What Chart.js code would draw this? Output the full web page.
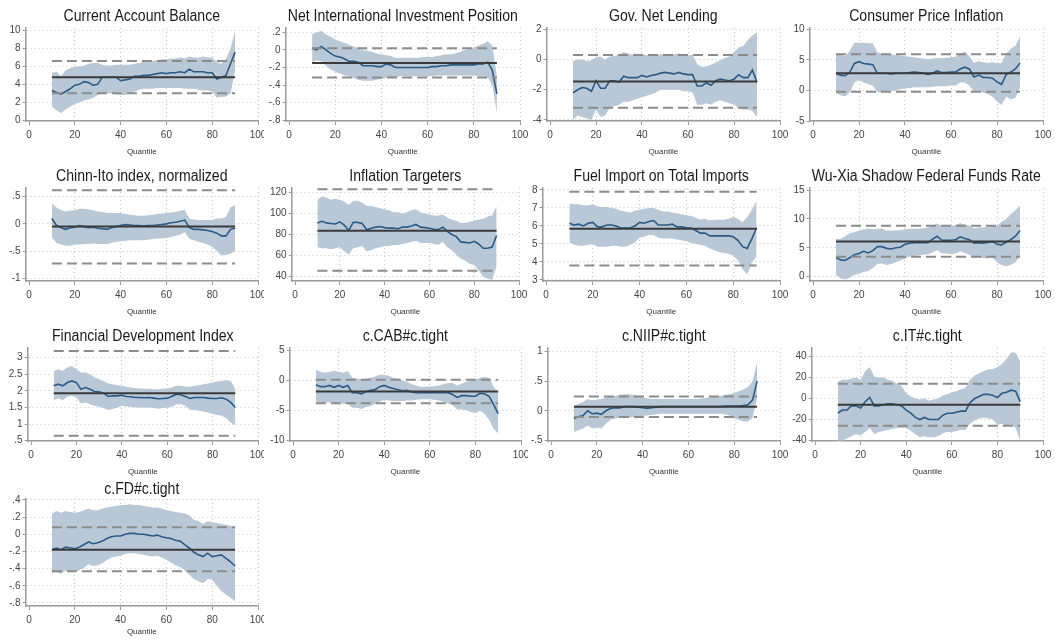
<!DOCTYPE html>
<html><head><meta charset="utf-8">
<script src="https://cdn.jsdelivr.net/npm/chart.js@4.4.0/dist/chart.umd.min.js"></script>
<style>
html,body{margin:0;padding:0;background:#fff;}
#wrap{position:relative;width:1055px;height:640px;overflow:hidden;background:#fff;}
.panel{position:absolute;}
.panel canvas{display:block;}
</style></head><body><div id="wrap"></div>
<script>
// ---------- data ----------
const QUANTILES = [10,12,14,16,18,20,22,24,26,28,30,32,34,36,38,40,42,44,46,48,50,52,54,56,58,60,62,64,66,68,70,72,74,76,78,80,82,84,86,88,90];
const X_TICKS = [0,20,40,60,80,100];
const X_TITLE = 'Quantile';

const cabTitle = 'Current Account Balance';
const cabLine  = [3.3,3.1,2.9,3.2,3.5,3.9,4.0,4.3,4.2,3.9,4.0,4.8,4.8,4.8,4.8,4.4,4.5,4.6,4.9,4.9,5.0,5.0,5.1,5.2,5.3,5.2,5.3,5.3,5.4,5.3,5.7,5.4,5.4,5.4,5.3,5.3,4.6,4.8,5.0,6.3,7.6];
const cabUpper = [5.3,5.4,4.9,5.6,5.8,6.0,6.0,6.1,6.3,6.4,6.4,6.2,6.1,6.1,6.2,6.2,6.2,6.2,6.3,6.4,6.5,6.5,6.6,6.7,6.8,6.8,6.9,6.9,7.0,6.9,7.1,7.0,7.0,7.1,7.0,7.0,6.5,6.3,6.8,8.0,10.0];
const cabLower = [1.5,1.1,0.8,1.2,1.5,1.8,2.0,2.2,2.3,2.5,2.8,3.0,3.0,3.0,2.9,2.8,2.8,3.0,3.2,3.4,3.5,3.5,3.5,3.6,3.6,3.6,3.6,3.6,3.6,3.5,3.5,3.5,3.4,3.3,3.3,3.2,2.5,2.6,2.6,3.0,5.5];
const cabOls   = [4.8, 6.6, 3.0];
const cabTicks = [0,2,4,6,8,10];

const niipTitle = 'Net International Investment Position';
const niipLine  = [0.02,0.0,0.04,0.0,-0.04,-0.07,-0.08,-0.10,-0.13,-0.13,-0.14,-0.18,-0.18,-0.18,-0.19,-0.19,-0.16,-0.17,-0.20,-0.20,-0.20,-0.20,-0.20,-0.20,-0.20,-0.20,-0.19,-0.19,-0.18,-0.18,-0.17,-0.17,-0.17,-0.17,-0.17,-0.17,-0.16,-0.16,-0.14,-0.23,-0.50];
const niipUpper = [0.18,0.20,0.22,0.18,0.15,0.12,0.10,0.08,0.06,0.04,0.02,0.0,-0.01,-0.02,-0.04,-0.05,-0.06,-0.07,-0.09,-0.09,-0.09,-0.09,-0.09,-0.09,-0.08,-0.08,-0.08,-0.07,-0.06,-0.05,-0.05,-0.04,-0.02,0.0,0.01,0.03,0.05,0.07,0.10,0.05,-0.30];
const niipLower = [-0.14,-0.12,-0.13,-0.18,-0.22,-0.25,-0.27,-0.29,-0.30,-0.32,-0.34,-0.35,-0.35,-0.35,-0.34,-0.33,-0.32,-0.31,-0.31,-0.30,-0.30,-0.30,-0.30,-0.30,-0.30,-0.30,-0.30,-0.29,-0.29,-0.29,-0.29,-0.29,-0.29,-0.29,-0.29,-0.29,-0.30,-0.30,-0.31,-0.40,-0.72];
const niipOls   = [-0.15, 0.02, -0.315];
const niipTicks = [-0.8,-0.6,-0.4,-0.2,0,0.2];

const govTitle = 'Gov. Net Lending';
const govLine  = [-2.2,-2.0,-1.85,-1.9,-2.1,-1.4,-1.9,-1.9,-1.4,-1.4,-1.5,-1.1,-1.2,-1.2,-1.2,-1.05,-1.15,-1.05,-1.0,-0.9,-0.85,-0.9,-0.95,-0.85,-0.95,-1.0,-1.0,-1.75,-1.75,-1.55,-1.7,-1.4,-1.3,-1.35,-1.4,-1.3,-1.0,-1.2,-1.2,-0.7,-1.5];
const govUpper = [-0.1,0.0,0.0,-0.1,-0.05,0.15,0.2,0.0,0.2,0.25,0.3,0.5,0.4,0.3,0.3,0.35,0.3,0.3,0.3,0.35,0.35,0.35,0.35,0.4,0.35,0.3,0.3,-0.3,-0.5,-0.45,-0.35,-0.2,-0.05,0.1,0.2,0.5,0.8,0.9,1.3,1.6,1.8];
const govLower = [-4.0,-3.7,-3.8,-3.9,-4.0,-3.3,-3.8,-3.7,-3.2,-3.1,-3.0,-2.8,-2.8,-2.7,-2.6,-2.5,-2.4,-2.3,-2.2,-2.0,-2.0,-2.0,-2.0,-2.0,-2.1,-2.1,-2.2,-3.0,-3.0,-2.9,-3.0,-2.8,-2.7,-2.8,-2.9,-3.0,-3.2,-3.3,-3.3,-3.4,-3.8];
const govOls   = [-1.45, 0.3, -3.2];
const govTicks = [-4,-2,0,2];

const cpiTitle = 'Consumer Price Inflation';
const cpiLine  = [2.8,2.5,2.4,3.0,4.4,4.7,4.4,4.3,4.2,2.8,2.8,2.8,2.7,2.8,2.8,2.8,2.9,3.0,2.9,2.8,2.6,2.8,3.2,2.9,2.9,3.0,3.0,3.5,3.8,3.5,2.2,2.5,2.1,2.1,2.0,1.4,1.0,2.6,3.0,3.5,4.5];
const cpiUpper = [6.0,6.0,5.6,6.5,7.8,7.8,7.8,7.7,7.7,6.2,6.0,6.0,5.9,5.8,5.7,5.6,5.5,5.4,5.3,5.2,5.1,5.2,5.3,5.3,5.3,5.4,5.5,6.0,6.3,5.6,4.5,4.8,4.6,4.5,4.6,4.5,4.5,6.0,6.8,7.3,8.8];
const cpiLower = [-0.5,-0.8,-1.0,-0.3,1.3,1.7,1.3,1.0,0.8,-0.3,-0.3,-0.2,-0.1,0.0,0.2,0.3,0.4,0.5,0.5,0.5,0.5,0.6,0.7,0.7,0.7,0.8,0.8,1.3,1.3,0.8,-0.2,-0.1,-0.4,-0.6,-1.0,-1.8,-2.4,-1.0,-1.5,-1.2,0.5];
const cpiOls   = [2.8, 5.9, -0.2];
const cpiTicks = [-5,0,5,10];

const chinnTitle = 'Chinn-Ito index, normalized';
const chinnLine  = [0.1,-0.03,-0.07,-0.1,-0.07,-0.06,-0.03,-0.05,-0.07,-0.06,-0.08,-0.09,-0.1,-0.07,-0.05,-0.03,-0.01,-0.02,-0.03,-0.03,-0.04,-0.03,-0.03,-0.02,-0.01,0.0,0.02,0.03,0.05,0.07,-0.07,-0.1,-0.1,-0.11,-0.12,-0.14,-0.17,-0.22,-0.22,-0.1,-0.08];
const chinnUpper = [0.38,0.3,0.25,0.23,0.24,0.25,0.28,0.28,0.27,0.25,0.23,0.22,0.2,0.2,0.2,0.2,0.18,0.17,0.16,0.15,0.15,0.16,0.17,0.18,0.19,0.2,0.21,0.22,0.24,0.26,0.1,0.08,0.07,0.07,0.07,0.07,0.1,0.1,0.12,0.3,0.35];
const chinnLower = [-0.25,-0.35,-0.38,-0.4,-0.4,-0.38,-0.38,-0.37,-0.37,-0.36,-0.37,-0.37,-0.37,-0.35,-0.33,-0.32,-0.31,-0.3,-0.3,-0.3,-0.3,-0.29,-0.28,-0.27,-0.27,-0.26,-0.24,-0.22,-0.2,-0.15,-0.28,-0.3,-0.33,-0.35,-0.38,-0.42,-0.5,-0.58,-0.57,-0.55,-0.5];
const chinnOls   = [-0.05, 0.62, -0.73];
const chinnTicks = [-1,-0.5,0,0.5];

const itTitle = 'Inflation Targeters';
const itLine  = [91,92.5,91,90.5,90,92,89,84,91.5,91.5,90.5,84.5,86,87,87.5,86.5,86,86,85.5,87,87,88,89.5,87,86.5,86,85,84.5,87,83,80,78,73,72.5,72,73.5,71,67,67,68,79];
const itUpper = [113,116,115,113,114,113,111,108,112,112,110,107,107,106,105,104,103,101,101,100,101,103,104,101,100,99,98,98,99,96,94,93,91,91,92,93,94,95,97,98,107];
const itLower = [68,67,67,66,67,68,64,61,67,68,69,64,65,67,68,69,69,70,70,71,72,73,74,72,72,72,71,70,73,68,65,61,57,55,52,51,46,40,38,37,50];
const itOls   = [83.6, 122.8, 45.7];
const itTicks = [40,60,80,100,120];

const fuelTitle = 'Fuel Import on Total Imports';
const fuelLine  = [6.15,6.05,6.1,6.0,6.15,6.2,5.95,5.95,6.05,6.05,6.0,5.88,5.88,5.9,6.0,6.2,6.15,6.25,6.3,6.05,6.05,6.05,6.1,5.95,5.95,5.9,5.88,5.75,5.6,5.6,5.45,5.45,5.45,5.45,5.45,5.4,5.2,4.85,4.75,5.3,5.9];
const fuelUpper = [7.25,7.2,7.2,7.15,7.15,7.2,7.1,7.05,7.05,7.0,6.95,6.85,6.8,6.75,6.85,6.9,6.95,7.0,7.0,6.9,6.8,6.8,6.75,6.7,6.65,6.6,6.55,6.45,6.35,6.4,6.3,6.35,6.35,6.35,6.4,6.5,6.4,6.2,6.5,6.9,7.4];
const fuelLower = [5.1,4.95,4.9,4.9,4.95,5.0,4.85,4.85,4.85,4.9,4.9,4.85,4.85,4.95,5.1,5.35,5.4,5.5,5.5,5.35,5.3,5.3,5.3,5.25,5.2,5.15,5.05,5.0,4.95,4.9,4.75,4.65,4.55,4.5,4.45,4.35,4.1,3.6,3.3,4.0,4.3];
const fuelOls   = [5.85, 7.9, 3.8];
const fuelTicks = [3,4,5,6,7,8];

const wuTitle = 'Wu-Xia Shadow Federal Funds Rate';
const wuLine  = [3.3,2.9,2.8,3.3,3.8,4.0,4.4,4.1,4.5,5.2,5.2,4.9,4.8,5.0,5.1,5.6,5.8,5.9,5.9,5.9,5.9,6.5,7.0,6.3,6.3,6.3,6.4,6.9,6.6,6.4,5.8,5.9,5.8,5.9,6.1,5.6,5.5,6.0,6.4,7.0,8.0];
const wuUpper = [6.5,6.5,7.0,7.5,7.7,8.0,8.2,8.3,8.2,8.3,8.3,8.0,8.0,8.0,8.1,8.2,8.3,8.3,8.3,8.4,8.5,8.8,9.2,8.8,8.8,8.8,8.9,9.3,9.0,8.8,8.4,8.5,8.5,8.6,8.8,8.8,9.5,10.0,10.8,11.5,12.3];
const wuLower = [0.3,-0.3,-0.5,-0.2,0.3,0.5,0.8,1.0,1.5,2.2,2.3,2.0,2.2,2.5,2.8,3.1,3.5,3.6,3.7,3.8,3.9,4.2,4.6,4.0,4.0,3.9,4.0,4.4,4.1,3.8,3.3,3.3,3.2,3.2,3.3,2.5,2.0,1.8,2.0,2.5,3.5];
const wuOls   = [6.1, 8.8, 3.45];
const wuTicks = [0,5,10,15];

const fdTitle = 'Financial Development Index';
const fdLine  = [2.15,2.2,2.15,2.25,2.3,2.25,2.05,2.1,2.05,1.98,1.97,1.93,1.83,1.85,1.85,1.87,1.83,1.82,1.8,1.8,1.79,1.8,1.78,1.76,1.77,1.78,1.83,1.9,1.88,1.83,1.77,1.8,1.8,1.8,1.78,1.77,1.77,1.79,1.75,1.65,1.5];
const fdUpper = [2.6,2.65,2.6,2.7,2.75,2.65,2.55,2.55,2.5,2.4,2.35,2.3,2.22,2.2,2.17,2.15,2.12,2.1,2.08,2.07,2.06,2.06,2.05,2.05,2.06,2.07,2.1,2.15,2.15,2.13,2.12,2.15,2.17,2.2,2.22,2.25,2.28,2.3,2.33,2.3,2.05];
const fdLower = [1.72,1.78,1.72,1.82,1.85,1.8,1.62,1.65,1.6,1.55,1.52,1.48,1.42,1.45,1.5,1.55,1.53,1.52,1.5,1.5,1.5,1.5,1.48,1.46,1.48,1.49,1.52,1.6,1.6,1.55,1.42,1.42,1.4,1.38,1.35,1.3,1.27,1.25,1.18,1.05,0.95];
const fdOls   = [1.93, 3.2, 0.65];
const fdTicks = [0.5,1,1.5,2,2.5,3];

const ccabTitle = 'c.CAB#c.tight';
const ccabLine  = [-0.7,-1.0,-1.0,-0.8,-1.1,-0.8,-1.1,-0.8,-2.0,-2.0,-2.2,-1.8,-1.6,-1.5,-1.0,-0.8,-1.1,-1.3,-1.5,-1.7,-1.6,-1.9,-2.0,-2.0,-2.0,-2.0,-2.0,-2.0,-2.0,-2.0,-2.3,-2.8,-2.5,-2.5,-2.6,-2.6,-2.1,-2.2,-2.6,-4.0,-5.5];
const ccabUpper = [1.8,1.5,1.3,1.5,1.6,1.5,1.3,1.6,0.5,0.4,0.2,0.3,0.5,0.7,1.0,1.0,0.8,0.5,0.3,0.0,-0.2,-0.6,-0.8,-1.0,-1.0,-1.0,-0.9,-0.8,-0.6,-0.4,-0.4,-0.8,-0.5,-0.2,0.0,0.2,0.5,0.6,0.5,-1.0,-2.0];
const ccabLower = [-3.5,-3.6,-3.7,-3.6,-3.8,-3.6,-3.9,-3.8,-4.5,-4.5,-4.7,-4.4,-4.2,-3.9,-3.5,-3.2,-3.3,-3.4,-3.4,-3.4,-3.3,-3.3,-3.2,-3.1,-3.1,-3.1,-3.2,-3.3,-3.5,-3.8,-4.1,-4.8,-4.8,-4.9,-5.2,-5.4,-5.0,-5.5,-6.5,-8.0,-8.8];
const ccabOls   = [-1.8, 0.15, -3.75];
const ccabTicks = [-10,-5,0,5];

const cniipTitle = 'c.NIIP#c.tight';
const cniipLine  = [-0.13,-0.1,-0.08,0.0,-0.05,-0.04,-0.06,0.0,0.04,0.05,0.05,0.07,0.07,0.07,0.06,0.05,0.04,0.05,0.06,0.07,0.07,0.07,0.07,0.07,0.07,0.07,0.07,0.07,0.07,0.07,0.07,0.07,0.07,0.08,0.08,0.08,0.08,0.09,0.1,0.18,0.5];
const cniipUpper = [0.08,0.12,0.15,0.2,0.18,0.19,0.2,0.22,0.24,0.25,0.27,0.28,0.28,0.27,0.25,0.23,0.21,0.2,0.2,0.2,0.2,0.2,0.2,0.2,0.2,0.2,0.2,0.2,0.21,0.22,0.23,0.24,0.25,0.27,0.28,0.3,0.33,0.36,0.4,0.5,0.82];
const cniipLower = [-0.36,-0.33,-0.3,-0.25,-0.3,-0.28,-0.3,-0.22,-0.15,-0.13,-0.12,-0.12,-0.12,-0.1,-0.09,-0.09,-0.08,-0.07,-0.06,-0.05,-0.05,-0.05,-0.05,-0.05,-0.05,-0.05,-0.05,-0.05,-0.05,-0.05,-0.05,-0.05,-0.05,-0.06,-0.08,-0.13,-0.15,-0.18,-0.18,-0.12,0.2];
const cniipOls   = [0.07, 0.24, -0.105];
const cniipTicks = [-0.5,0,0.5,1];

const citTitle = 'c.IT#c.tight';
const citLine  = [-14,-11,-11,-7,-7,-9,-3,1,-7,-7,-6,-5,-5,-6,-7,-11,-14,-18,-20,-18,-20,-20,-20,-16,-14,-14,-13,-12,-12,-4,0,2,4,4,3,1,5,6,8,7,-3];
const citUpper = [16,18,18,19,20,18,26,30,21,20,20,18,17,14,12,5,2,0,-1,0,-2,-1,0,3,4,6,7,9,10,18,22,24,26,28,28,30,33,38,44,44,35];
const citLower = [-40,-40,-38,-36,-34,-35,-32,-28,-34,-32,-31,-30,-29,-28,-28,-28,-31,-34,-37,-36,-37,-37,-36,-33,-32,-32,-31,-30,-30,-24,-21,-19,-18,-19,-20,-25,-24,-26,-25,-28,-40];
const citOls   = [-6, 14, -26];
const citTicks = [-40,-20,0,20,40];

const cfdTitle = 'c.FD#c.tight';
const cfdLine  = [-0.18,-0.16,-0.18,-0.15,-0.16,-0.17,-0.15,-0.12,-0.09,-0.11,-0.1,-0.08,-0.05,-0.03,-0.02,-0.02,0.0,0.01,0.01,0.0,0.0,-0.01,-0.02,-0.01,-0.03,-0.04,-0.05,-0.07,-0.08,-0.12,-0.16,-0.21,-0.24,-0.26,-0.22,-0.26,-0.25,-0.24,-0.28,-0.32,-0.37];
const cfdUpper = [0.24,0.27,0.25,0.27,0.26,0.25,0.26,0.28,0.3,0.28,0.28,0.3,0.31,0.32,0.33,0.34,0.34,0.35,0.34,0.34,0.33,0.32,0.31,0.31,0.3,0.28,0.27,0.26,0.25,0.24,0.22,0.17,0.15,0.12,0.15,0.14,0.13,0.12,0.11,0.1,0.08];
const cfdLower = [-0.45,-0.44,-0.46,-0.42,-0.43,-0.44,-0.42,-0.39,-0.35,-0.37,-0.36,-0.34,-0.3,-0.27,-0.26,-0.25,-0.23,-0.22,-0.22,-0.23,-0.24,-0.25,-0.26,-0.25,-0.27,-0.3,-0.33,-0.36,-0.38,-0.42,-0.47,-0.52,-0.55,-0.57,-0.52,-0.53,-0.6,-0.66,-0.7,-0.74,-0.78];
const cfdOls   = [-0.18, 0.08, -0.43];
const cfdTicks = [-0.8,-0.6,-0.4,-0.2,0,0.2,0.4];

// ---------- styles ----------
const FONT = "'Liberation Sans',Arial,sans-serif";
const TITLE_SIZE = 16;
const TITLE_SQUEEZE = 0.88;
const BAND = '#b9c8d6';
const QLINE = '#2b5a85';
const OLSC = '#3a3a3a';
const DASHC = '#8c8c8c';
const AXISC = '#9a9a9a';
const GRIDC = '#c4c4c4';

// ---------- panel layout ----------
const panels = [
  {t:cabTitle, l:cabLine, u:cabUpper, lo:cabLower, o:cabOls, ticks:cabTicks, min:-0.1, max:10.3, left:0, top:0, w:264, h:160, x0:29, x100:258, ptop:28, bot:121},
  {t:niipTitle, l:niipLine, u:niipUpper, lo:niipLower, o:niipOls, ticks:niipTicks, min:-0.81, max:0.25, left:264, top:0, w:264, h:160, x0:25, x100:256, ptop:28, bot:121},
  {t:govTitle, l:govLine, u:govUpper, lo:govLower, o:govOls, ticks:govTicks, min:-4.07, max:2.09, left:528, top:0, w:264, h:160, x0:22, x100:252, ptop:28, bot:121},
  {t:cpiTitle, l:cpiLine, u:cpiUpper, lo:cpiLower, o:cpiOls, ticks:cpiTicks, min:-5.0, max:10.2, left:792, top:0, w:263, h:160, x0:21, x100:251, ptop:28, bot:121},
  {t:chinnTitle, l:chinnLine, u:chinnUpper, lo:chinnLower, o:chinnOls, ticks:chinnTicks, min:-1.05, max:0.66, left:0, top:160, w:264, h:160, x0:29, x100:258, ptop:28, bot:121},
  {t:itTitle, l:itLine, u:itUpper, lo:itLower, o:itOls, ticks:itTicks, min:35.9, max:124.1, left:264, top:160, w:264, h:160, x0:31, x100:255, ptop:28, bot:121},
  {t:fuelTitle, l:fuelLine, u:fuelUpper, lo:fuelLower, o:fuelOls, ticks:fuelTicks, min:2.94, max:8.11, left:528, top:160, w:264, h:160, x0:18, x100:252, ptop:28, bot:121},
  {t:wuTitle, l:wuLine, u:wuUpper, lo:wuLower, o:wuOls, ticks:wuTicks, min:-0.75, max:15.35, left:792, top:160, w:263, h:160, x0:21, x100:251, ptop:28, bot:121},
  {t:fdTitle, l:fdLine, u:fdUpper, lo:fdLower, o:fdOls, ticks:fdTicks, min:0.49, max:3.29, left:0, top:320, w:264, h:160, x0:31, x100:258, ptop:28, bot:121},
  {t:ccabTitle, l:ccabLine, u:ccabUpper, lo:ccabLower, o:ccabOls, ticks:ccabTicks, min:-10.05, max:5.44, left:264, top:320, w:264, h:160, x0:29, x100:257, ptop:28, bot:121},
  {t:cniipTitle, l:cniipLine, u:cniipUpper, lo:cniipLower, o:cniipOls, ticks:cniipTicks, min:-0.51, max:1.06, left:528, top:320, w:264, h:160, x0:23, x100:252, ptop:28, bot:121},
  {t:citTitle, l:citLine, u:citUpper, lo:citLower, o:citOls, ticks:citTicks, min:-40.5, max:48.2, left:792, top:320, w:263, h:160, x0:23, x100:251, ptop:28, bot:121},
  {t:cfdTitle, l:cfdLine, u:cfdUpper, lo:cfdLower, o:cfdOls, ticks:cfdTicks, min:-0.835, max:0.41, left:0, top:473, w:264, h:167, x0:29, x100:258, ptop:26, bot:133}
];

function fmt(v){
  let s = String(Math.round(v*1000)/1000);
  return s.replace(/^(-?)0\./,'$1.');
}

// Stata-like title: centred over the plot region, slightly condensed
const stataTitle = {
  id:'stataTitle',
  afterDraw(chart, args, opts){
    const ctx = chart.ctx, a = chart.chartArea;
    ctx.save();
    ctx.font = TITLE_SIZE + 'px ' + FONT;
    ctx.fillStyle = '#1a1a1a';
    ctx.textAlign = 'center';
    ctx.textBaseline = 'middle';
    const w = ctx.measureText(opts.text).width;
    ctx.fillText(opts.text, (a.left + a.right)/2, opts.y, w*TITLE_SQUEEZE);
    ctx.restore();
  }
};

const wrap = document.getElementById('wrap');
const X_MIN = -1.5;

panels.forEach(p => {
  const div = document.createElement('div');
  div.className = 'panel';
  div.style.left = p.left+'px'; div.style.top = p.top+'px';
  div.style.width = p.w+'px'; div.style.height = p.h+'px';
  const c = document.createElement('canvas');
  c.width = p.w; c.height = p.h;
  c.style.width = p.w+'px'; c.style.height = p.h+'px';
  div.appendChild(c); wrap.appendChild(div);

  const pts = arr => QUANTILES.map((q,i)=>({x:q, y:arr[i]}));
  const flat = v => [{x:QUANTILES[0], y:v},{x:QUANTILES[QUANTILES.length-1], y:v}];
  const chartLeft = p.x0 + X_MIN*(p.x100-p.x0)/100;

  const gridColor = ctx => (ctx.tick && ctx.tick.value === 0 && ctx.scale && ctx.scale.axis === 'x') ? 'rgba(0,0,0,0)' : GRIDC;

  new Chart(c, {
    type:'line',
    plugins:[stataTitle],
    data:{datasets:[
      {data:pts(p.u), borderWidth:0, pointRadius:0, backgroundColor:BAND, borderColor:BAND, fill:'+1', order:5},
      {data:pts(p.lo), borderWidth:0, pointRadius:0, borderColor:BAND, fill:false, order:6},
      {data:pts(p.l), borderColor:QLINE, borderWidth:1.6, pointRadius:0, fill:false, order:2},
      {data:flat(p.o[0]), borderColor:OLSC, borderWidth:2, pointRadius:0, fill:false, order:1},
      {data:flat(p.o[1]), borderColor:DASHC, borderWidth:2, borderDash:[10,5], pointRadius:0, fill:false, order:0},
      {data:flat(p.o[2]), borderColor:DASHC, borderWidth:2, borderDash:[10,5], pointRadius:0, fill:false, order:0}
    ]},
    options:{
      responsive:false, animation:false, devicePixelRatio:1,
      layout:{padding:{left:0, right:p.w - p.x100, top:p.ptop, bottom:0}},
      plugins:{
        legend:{display:false}, tooltip:{enabled:false}, title:{display:false},
        stataTitle:{text:p.t, y:17}
      },
      scales:{
        x:{type:'linear', min:X_MIN, max:100,
          afterBuildTicks: s => { s.ticks = X_TICKS.map(v=>({value:v})); },
          afterFit: s => { s.height = p.h - p.bot; s.paddingLeft = 0; s.paddingRight = 0; },
          ticks:{font:{family:FONT, size:10}, color:'#444', padding:4, maxRotation:0, autoSkip:false, callback: v => String(v)},
          grid:{color:gridColor, lineWidth:1, drawTicks:true, tickLength:4, tickColor:AXISC, tickWidth:1},
          border:{color:AXISC, width:1.5, dash:[1,3]},
          title:{display:true, text:X_TITLE, color:'#333', font:{family:FONT, size:8}, padding:{top:0, bottom:3}}
        },
        y:{type:'linear', min:p.min, max:p.max,
          afterBuildTicks: s => { s.ticks = p.ticks.map(v=>({value:v})); },
          afterFit: s => { s.width = chartLeft; s.paddingTop = 0; s.paddingBottom = 0; },
          ticks:{font:{family:FONT, size:10}, color:'#444', padding:2, autoSkip:false, callback: v => fmt(v)},
          grid:{color:gridColor, lineWidth:1, drawTicks:true, tickLength:3, tickColor:AXISC, tickWidth:1},
          border:{color:AXISC, width:1.5, dash:[1,3]}
        }
      }
    }
  });
});
</script>
</body></html>
